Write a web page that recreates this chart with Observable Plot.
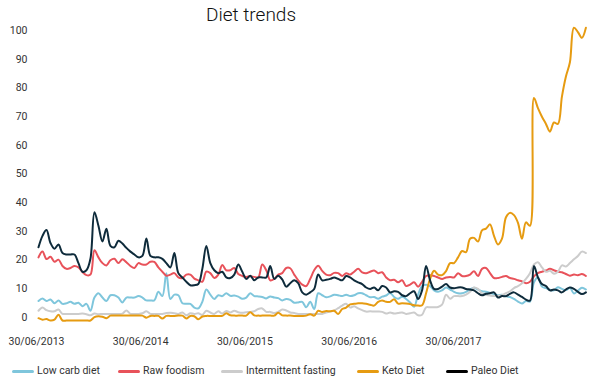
<!DOCTYPE html>
<html>
<head>
<meta charset="utf-8">
<script src="https://cdn.jsdelivr.net/npm/d3@7"></script>
<script src="https://cdn.jsdelivr.net/npm/@observablehq/plot@0.6"></script>
<style>
  html, body { margin: 0; padding: 0; background: #fff; }
  #wrap { position: relative; width: 600px; height: 383px; overflow: hidden; font-family: Roboto, sans-serif; }
  #title { position: absolute; top: 1px; left: 0; width: 502px; text-align: center; font-size: 19px; line-height: 28px; font-weight: 300; color: #111; }
  #chart { position: absolute; top: 0; left: 0; }
  .lg { position: absolute; top: 364px; height: 14px; }
  .sw { position: absolute; top: 5.5px; width: 22px; height: 3px; border-radius: 2px; }
  .lt { position: absolute; top: 0; font-size: 10.5px; line-height: 14px; color: #333; white-space: nowrap; }
</style>
</head>
<body>
<div id="wrap">
  <div id="chart"></div>
  <div id="title">Diet trends</div>
  <div id="legend"></div>
</div>
<script>
// ---- data (one sample every two weeks) ----
const seriesNames = ["Low carb diet", "Raw foodism", "Intermittent fasting", "Keto Diet", "Paleo Diet"];
const lineColors  = ["#7fc6dc", "#e8525a", "#cccccc", "#e69b11", "#0e2b3b"];
const swatchColors = ["#7fc6dc", "#e8525a", "#cccccc", "#e69b11", "#000000"];

const firstDate = "2013-07-07";   // first sample, then every 14 days
const xTickDates = ["2013-06-30", "2014-06-30", "2015-06-30", "2016-06-30", "2017-06-30"];
const yTicks = [0, 10, 20, 30, 40, 50, 60, 70, 80, 90, 100];

const lowCarb = [
  6.8, 7.7, 6.8, 7.3, 6, 7, 5.8, 6, 6.5, 5.8,
  6.2, 5, 5.8, 3.4, 8, 9.5, 8, 6.8, 8.8, 8.8,
  8, 6.3, 8, 8, 8, 8.5, 8, 7, 7, 7,
  10, 8.5, 16.5, 7.5, 9, 8.8, 6, 5.8, 5.8, 4.5,
  4.2, 6.5, 10.8, 9, 7.5, 8.8, 8.5, 9.5, 8.6, 8.7,
  8.3, 7.6, 8, 9.5, 8.5, 8.4, 8.2, 7.7, 8.4, 8,
  7.8, 7, 7.5, 7.2, 6.2, 6.3, 6.5, 4.6, 6.5, 4,
  9.5, 8.8, 8.1, 8.4, 9, 8.8, 8.5, 9, 8.5, 8.8,
  9.5, 9.5, 8.8, 8.1, 8.2, 7.6, 8.3, 8.7, 9.6, 8.2,
  7.6, 8.3, 7.5, 6.3, 4.8, 9, 12, 12.5, 12, 10.5,
  10, 10.5, 11.5, 10.8, 10, 9.5, 9.5, 10, 10.8, 11.4,
  10.8, 10.2, 10, 9.6, 9.2, 8.8, 9, 8.4, 8.2, 7.5,
  6.6, 5.9, 6.8, 6.6, 13.3, 15, 11.8, 11.3, 10.7, 10.5,
  11.6, 11, 10.6, 11.4, 9.4, 10.4, 11.4, 10.8
];
const rawFoodism = [
  22, 24, 21.4, 22.2, 20.5, 21.2, 19, 18, 18.3, 19,
  18.5, 16.9, 15.8, 16, 24.5, 22, 20, 19.2, 21, 21.5,
  20, 21.3, 20.3, 19, 18.3, 20, 19.5, 19.5, 20.5, 20.4,
  18.5, 17, 15.6, 16, 16.5, 15, 14.8, 16, 16, 14.6,
  14, 13.5, 17, 16.5, 14.8, 16, 19.3, 17.5, 17.5, 18.3,
  16.2, 15.5, 15.2, 15.4, 15.2, 15, 19.5, 17.5, 14, 14.5,
  16, 16.5, 18.3, 18.2, 16, 14, 12.5, 12, 14.5, 17.5,
  19.1, 17.3, 16, 15.8, 16.6, 16.5, 15.5, 16.5, 16, 17,
  18, 16.8, 16.5, 17, 17.4, 16.5, 16.8, 15, 14, 14.2,
  13.3, 14, 12, 12.5, 13.3, 11.8, 13.5, 15.5, 15.8, 15.5,
  15, 14.5, 15, 15.2, 15, 16.5, 15.5, 15.5, 16, 17.2,
  15.5, 18, 18.3, 16.5, 14.8, 14.8, 15.2, 15.5, 14.8, 14.5,
  14, 13.6, 13, 13.5, 15.4, 16.5, 17, 17.4, 18, 17.5,
  17, 16.8, 16.2, 15.6, 16, 15.8, 16.2, 15.5
];
const intermittentFasting = [
  3.4, 4.5, 3.6, 3.2, 3.2, 3.8, 2.3, 2.3, 2.3, 2.3,
  2.3, 2.4, 2.2, 1.8, 2.4, 2.2, 2.3, 2.3, 2.3, 2.3,
  2.3, 2.4, 3.5, 2.3, 2.3, 2.3, 2.5, 3.2, 2.3, 2.3,
  2.3, 2.3, 2.6, 2.7, 2.5, 2.3, 2.8, 1.8, 2.5, 2.3,
  2.5, 2, 3.4, 2.8, 2.3, 3.2, 2.4, 3.3, 2.8, 3.4,
  2.9, 2.7, 2.9, 3, 3.2, 4, 4.2, 3, 3, 2.6,
  3, 3.8, 3.5, 2.8, 2.6, 2.3, 2.3, 2.3, 2.3, 2.3,
  2.3, 2.3, 2.8, 3.1, 3.5, 4.3, 5.2, 5.8, 4.5, 5,
  4.2, 3.6, 3.1, 3.2, 3.1, 3.1, 3, 2.4, 2.8, 2.4,
  2.6, 2.8, 2.3, 2.5, 2.8, 1.8, 2, 4.6, 4.6, 4.6,
  4.7, 5.5, 9, 7.6, 8.5, 8.5, 8.5, 9, 10, 11.5,
  11, 9.5, 9, 8.7, 8.5, 8.6, 8.8, 9.5, 10.2, 11.3,
  12, 13, 14.5, 16.5, 19.5, 20.3, 18.5, 17, 17.3, 16.3,
  17, 19.2, 18.8, 20, 21.3, 22.5, 24, 23.5
];
const ketoDiet = [
  0.8, 0.3, 0.5, 0, 0.3, 2, 0, 0, 0, 0,
  0, 0, 0, 0, 1.2, 1.5, 1.3, 0.8, 1.7, 1.7,
  1.7, 1.7, 1.7, 1.7, 1.7, 1.7, 1.7, 1, 1.6, 1.6,
  1.6, 0.7, 1.6, 1.6, 1.6, 1.7, 1.7, 0.7, 1.6, 1.5,
  0.4, 1.4, 1.6, 1.6, 1.6, 1.6, 1.6, 2.5, 1.8, 1.7,
  1.7, 1.7, 1.7, 2.9, 1.8, 1.7, 1.7, 1.7, 1.7, 1.7,
  2.7, 1.8, 1.7, 1.7, 1.6, 1.6, 1.6, 1.7, 2.2, 1.7,
  3.4, 3, 3.3, 3.2, 3.4, 2.3, 4, 4.5, 5.6, 5.8,
  6, 6, 5.8, 5.5, 5.2, 6.5, 7, 6.5, 6.5, 7.4,
  5.9, 6, 5.9, 5.7, 5.3, 5.2, 5.3, 9.5, 14.5, 17.3,
  16, 15.8, 17.2, 20, 20, 22, 24.2, 23.8, 28.5, 28.8,
  27.5, 31.4, 32, 33.5, 29.5, 26.5, 28.5, 36, 37.5, 36.7,
  34, 28.5, 34.2, 33, 77.5, 74, 71, 68.5, 65.8, 69,
  68.5, 78, 85, 90, 102, 100.5, 98.5, 102
];
const paleoDiet = [
  25.5, 29.5, 31.5, 27, 25, 26.5, 23.5, 23, 23, 23,
  20, 17, 17.5, 21.5, 37.7, 33, 27.5, 32, 26, 25.5,
  27.8, 26.8, 25.3, 24, 23, 22, 22.5, 28.6, 22.5, 22,
  22, 21.5, 20, 18.5, 23.5, 16.5, 15, 13.5, 12.3, 12.3,
  12.7, 18, 26, 20, 17.5, 16.5, 17, 15, 14.8, 16,
  19.5, 17, 14.5, 15.6, 14, 15, 15, 15, 19, 14.5,
  15.6, 14.3, 11.8, 13, 14, 13, 9.8, 9, 9.8, 11,
  16, 14, 14.2, 14.5, 15, 14.5, 14, 15.5, 15, 14,
  13.3, 12.7, 11.5, 11, 11.5, 10.5, 12, 11.5, 9.8, 10.2,
  10, 8.8, 8.5, 9.5, 10.2, 7.5, 10.5, 19, 14, 11,
  11, 11.8, 12.7, 11.5, 11.2, 11.5, 11.5, 11, 10.8, 10.5,
  9.5, 8.8, 9.3, 9.5, 9.8, 8, 8.5, 8.5, 9.3, 9.8,
  9, 8.2, 7.3, 6.9, 19, 15, 12.7, 12, 10.5, 10.8,
  10.5, 9.8, 10.8, 11.5, 11, 10, 9.2, 9.8
];

// ---- build table ----
const seriesValues = [lowCarb, rawFoodism, intermittentFasting, ketoDiet, paleoDiet];
const t0 = new Date(firstDate + "T00:00:00Z");
const table = [];
seriesNames.forEach((name, s) => {
  seriesValues[s].forEach((v, i) => {
    table.push({ series: name, date: d3.utcDay.offset(t0, i * 14), value: v });
  });
});

const chart = Plot.plot({
  width: 600,
  height: 350,
  marginLeft: 36,
  marginRight: 12,
  marginTop: 20,
  marginBottom: 24,
  x: { type: "utc", domain: [new Date("2013-06-30T00:00:00Z"), new Date("2018-10-14T00:00:00Z")], range: [36, 587.4] },
  y: { domain: [0, 100], range: [320, 33] },
  color: { domain: seriesNames, range: lineColors },
  style: { fontFamily: "Roboto, sans-serif", fontSize: "10.5px", color: "#333", background: "transparent", overflow: "visible" },
  marks: [
    Plot.axisY({ ticks: yTicks, tickSize: 0, tickPadding: 9, dy: -3, tickFormat: d => String(d), label: null, fill: "#333" }),
    Plot.axisX({ ticks: xTickDates.map(d => new Date(d + "T00:00:00Z")), tickSize: 0, tickPadding: 11, tickFormat: d3.utcFormat("%d/%m/%Y"), label: null, fill: "#333" }),
    Plot.lineY(table, { x: "date", y: "value", z: "series", stroke: "series", strokeWidth: 2, curve: "catmull-rom" })
  ]
});
document.getElementById("chart").appendChild(chart);

// ---- legend ----
const swLeft = [12, 118, 221, 357, 446];
const legend = document.getElementById("legend");
seriesNames.forEach((name, i) => {
  const item = document.createElement("div");
  item.className = "lg";
  item.style.left = swLeft[i] + "px";
  const sw = document.createElement("div");
  sw.className = "sw";
  sw.style.left = "0px";
  sw.style.background = swatchColors[i];
  const tx = document.createElement("div");
  tx.className = "lt";
  tx.style.left = "25px";
  tx.textContent = name;
  item.appendChild(sw);
  item.appendChild(tx);
  legend.appendChild(item);
});
</script>
</body>
</html>
